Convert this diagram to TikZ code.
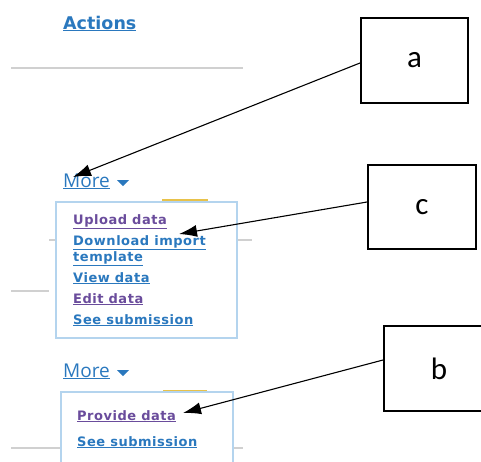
\documentclass[tikz,border=0pt]{standalone}
\usepackage{fontspec}
\setmainfont{Open Sans}
\newfontfamily\boxfont{Carlito}
\newfontfamily\menufont{DejaVu Sans}
\newfontfamily\itemfont[LetterSpace=4]{DejaVu Sans}
\usetikzlibrary{arrows.meta}
\definecolor{govblue}{HTML}{2A78BE}
\definecolor{govpurple}{HTML}{6A4C9C}
\definecolor{menuborder}{HTML}{B4D4EE}
\definecolor{sepgray}{HTML}{D0D0D0}
\definecolor{tabyellow}{HTML}{E8C24A}
\tikzset{
  labelbox/.style={draw=black, line width=2pt, fill=white, minimum width=107pt, minimum height=85pt, font=\boxfont\fontsize{31}{34}\selectfont, inner sep=0pt},
  menubox/.style={draw=menuborder, line width=1.5pt, fill=white},
  sepline/.style={draw=sepgray, line width=1.2pt},
  item/.style={anchor=base west, inner sep=0pt, font=\itemfont\fontsize{13}{15}\selectfont\bfseries},
  blueitem/.style={item, text=govblue},
  purpleitem/.style={item, text=govpurple},
  morelink/.style={anchor=base west, inner sep=0pt, text=govblue, font=\fontsize{19}{22}\selectfont},
  pointer/.style={draw=black, line width=1.1pt, -{Latex[length=18pt,width=12pt]}},
  tabmark/.style={draw=tabyellow, line width=2.5pt},
  caret/.style={fill=govblue, draw=none}
}
\begin{document}
\begin{tikzpicture}[x=1pt,y=-1pt]
\useasboundingbox (0,0) rectangle (481,461);
% Actions
\node[anchor=base west, inner sep=0pt, text=govblue, font=\menufont\fontsize{17.5}{20}\selectfont\bfseries] (actions) at (63,29) {\underline{Actions}};
\draw[sepline] (11,68) -- (243,68);
% separators behind menus
\draw[sepline] (49,240) -- (252,240);
\draw[sepline] (11,291) -- (49,291);
\draw[sepline] (11,448) -- (243,448);
% first More
\node[morelink] (more1) at (63,187) {\underline{More}};
\fill[caret] (117,180) -- (129,180) -- (123,186) -- cycle;
\draw[tabmark] (162,200) -- (208,200);
\draw[menubox] (56,202) rectangle (237,338);
\node[purpleitem] (upload) at (73,224) {\underline{Upload data}};
\node[blueitem] (download) at (73,245) {\underline{Download import}};
\node[blueitem] (template) at (73,261) {\underline{template}};
\node[blueitem] (view) at (73,282) {\underline{View data}};
\node[purpleitem] (edit) at (73,303) {\underline{Edit data}};
\node[blueitem] (see1) at (73,324) {\underline{See submission}};
% second More
\node[morelink] (more2) at (63,377) {\underline{More}};
\fill[caret] (117,370) -- (129,370) -- (123,376) -- cycle;
\draw[tabmark] (163,391) -- (207,391);
\draw[menubox] (61,392) rectangle (233,470);
\node[purpleitem] (provide) at (77,420) {\underline{Provide data}};
\node[blueitem] (see2) at (77,446) {\underline{See submission}};
% label boxes
\node[labelbox, anchor=north west] (a) at (360,17) {a};
\node[labelbox, anchor=north west, minimum width=108pt, minimum height=84pt] (c) at (367,164) {c};
\node[labelbox, anchor=north west, minimum width=110pt] (b) at (383,325) {b};
% pointer ends
\coordinate (pa) at (73,177);
\coordinate (pc) at (179,234);
\coordinate (pb) at (183,413);
\draw[pointer] (a.west |- 0,63) -- (pa);
\draw[pointer] (c.west |- 0,202) -- (pc);
\draw[pointer] (b.west |- 0,360) -- (pb);
\end{tikzpicture}
\end{document}
